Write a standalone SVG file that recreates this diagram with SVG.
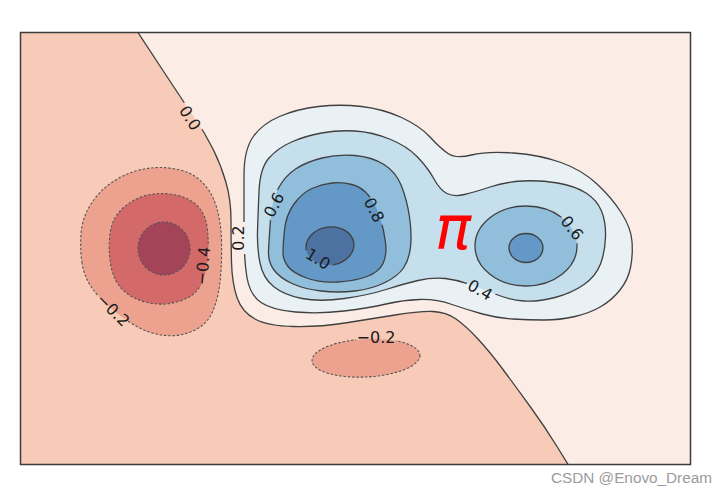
<svg xmlns="http://www.w3.org/2000/svg" width="727" height="493" viewBox="0 0 727 493">
<defs>
<style>
.lv{font-family:"DejaVu Sans","Liberation Sans",sans-serif;font-size:16px;fill:#1a1a1a;text-anchor:middle;dominant-baseline:central}
.ln{fill:none;stroke:#404040;stroke-width:1.3;stroke-linejoin:round}
.neg{fill:none;stroke:#555555;stroke-width:1.1;stroke-dasharray:2.5 1.8}
</style>
<clipPath id="frame"><rect x="20" y="32" width="671" height="433"/></clipPath>
<path id="c00" d="M137,31 L160,66 Q183,101 194,117 Q205,133 213,149 Q221,165 226,182.5 Q231,200 231,220 Q231,240 231.5,261.5 Q232,283 237,297.5 Q242,312 255,319 Q268,326 294,326.5 Q320,327 345,323 Q370,319 395,315 Q420,311 433,311.5 Q446,312 456,319 Q466,326 478,339 Q490,352 503,369.5 Q516,387 530.5,407 Q545,427 557,446.5 L569,466"/>
<path id="c02" d="M244,230 Q244,200 244,175 Q244,150 253,137 Q262,124 279.5,116.5 Q297,109 318.5,106.5 Q340,104 361.5,106.5 Q383,109 401.5,117.5 Q420,126 430,137 Q440,148 448,153.5 Q456,159 471.5,155 Q487,151 513.5,153 Q540,155 561,162.5 Q582,170 597,184 Q612,198 621.5,213 Q631,228 632,241.5 Q633,255 630.5,267.5 Q628,280 620,290 Q612,300 601,306.5 Q590,313 575,316.5 Q560,320 544,320 Q528,320 512.5,319 Q497,318 482.5,314 Q468,310 452,304.5 Q436,299 419.5,299.5 Q403,300 386,304 Q369,308 344,311 Q319,314 295.5,312 Q272,310 261,302.5 Q250,295 247,277.5 Q244,260 244,230 Z"/>
<path id="c04" d="M257.5,231.5 Q258,215 259,191.5 Q260,168 269,158 Q278,148 291.5,142 Q305,136 321.5,133 Q338,130 355,131 Q372,132 389.5,139 Q407,146 417.5,157 Q428,168 434,179 Q440,190 447,193.5 Q454,197 464.5,194.5 Q475,192 490,187 Q505,182 522.5,181 Q540,180 557.5,183 Q575,186 586,193 Q597,200 601.5,211 Q606,222 605.5,237 Q605,252 600.5,264 Q596,276 584,284.5 Q572,293 555,297.5 Q538,302 524,301 Q510,300 496.5,294.5 Q483,289 470.5,284.5 Q458,280 445.5,278.5 Q433,277 418,280.5 Q403,284 386,289.5 Q369,295 344.5,298.5 Q320,302 302,298.5 Q284,295 273.5,286.5 Q263,278 260,263 Q257,248 257.5,231.5 Z"/>
<path id="c06a" d="M268.5,251 Q269,240 270.5,220 Q272,200 278.5,188 Q285,176 295.5,169 Q306,162 322,158 Q338,154 355,155.5 Q372,157 384,164.5 Q396,172 401.5,186 Q407,200 409.5,217 Q412,234 410.5,247 Q409,260 403.5,268 Q398,276 385,282.5 Q372,289 355,291 Q338,293 321,291 Q304,289 292,283.5 Q280,278 274,270 Q268,262 268.5,251 Z"/>
<ellipse id="c06b" cx="526" cy="246" rx="51" ry="40"/>
<path id="c08a" d="M283,252.5 Q283,245 284.5,230 Q286,215 294,204 Q302,193 312,188.5 Q322,184 332,183 Q342,182 352,184.5 Q362,187 369,196 Q376,205 380,217.5 Q384,230 385.5,242.5 Q387,255 383,263.5 Q379,272 367,276.5 Q355,281 337.5,282 Q320,283 306.5,278 Q293,273 288,266.5 Q283,260 283,252.5 Z"/>
<ellipse id="c08b" cx="526" cy="248" rx="17" ry="14.5"/>
<ellipse id="c10" cx="330" cy="246" rx="24" ry="19" transform="rotate(-8 330 246)"/>
<path id="m02a" d="M82,263 Q80,250 81,234 Q82,218 91,204 Q100,190 114,181 Q128,172 144,169 Q160,166 176,169 Q192,172 202,182 Q212,192 216.5,207 Q221,222 221.5,241 Q222,260 220.5,277.5 Q219,295 213.5,309.5 Q208,324 194,330.5 Q180,337 165,335.5 Q150,334 136,326 Q122,318 110,307.5 Q98,297 91,286.5 Q84,276 82,263 Z"/>
<ellipse id="m02b" cx="366" cy="358" rx="54" ry="19" transform="rotate(-3 366 358)"/>
<path id="m04" d="M111,266 Q108,250 110,234 Q112,218 123,208 Q134,198 148,195 Q162,192 176,195 Q190,198 198,206.5 Q206,215 207.5,230 Q209,245 207.5,260 Q206,275 200.5,285.5 Q195,296 180,301 Q165,306 149.5,303 Q134,300 124,291 Q114,282 111,266 Z"/>
<ellipse id="m06" cx="164" cy="248.5" rx="26" ry="26.5"/>
<mask id="gaps" maskUnits="userSpaceOnUse" x="0" y="0" width="727" height="493">
<rect width="727" height="493" fill="#fff"/>
<g fill="#000">
<rect x="-16" y="-7" width="32" height="14" transform="translate(190,118) rotate(57)"/>
<rect x="-16" y="-7" width="32" height="14" transform="translate(242,238) rotate(-90)"/>
<rect x="-15" y="-6" width="30" height="12" transform="translate(274,205) rotate(-62)"/>
<rect x="-15" y="-7" width="30" height="14" transform="translate(376,211) rotate(63)"/>
<rect x="-15" y="-7" width="30" height="14" transform="translate(318,260) rotate(32)"/>
<rect x="-15" y="-7" width="30" height="14" transform="translate(572,228) rotate(52)"/>
<rect x="-15" y="-7" width="30" height="14" transform="translate(481,289) rotate(30)"/>
<rect x="-20" y="-7" width="40" height="14" transform="translate(205,266) rotate(-85)"/>
<rect x="-20" y="-7" width="40" height="14" transform="translate(112,309) rotate(45)"/>
<rect x="-20" y="-7" width="40" height="14" transform="translate(376,338)"/>
</g>
</mask>
</defs>
<rect width="727" height="493" fill="#ffffff"/>
<g id="plot" clip-path="url(#frame)">
<g id="fills" stroke="none">
<rect x="20" y="32" width="671" height="433" fill="#f7cbb7"/>
<path id="fill-0-0.2" fill="#fbede5" d="M137,31 L160,66 Q183,101 194,117 Q205,133 213,149 Q221,165 226,182.5 Q231,200 231,220 Q231,240 231.5,261.5 Q232,283 237,297.5 Q242,312 255,319 Q268,326 294,326.5 Q320,327 345,323 Q370,319 395,315 Q420,311 433,311.5 Q446,312 456,319 Q466,326 478,339 Q490,352 503,369.5 Q516,387 530.5,407 Q545,427 557,446.5 L569,466 L692,466 L692,31 Z"/>
<use href="#c02" fill="#eaf1f5"/>
<use href="#c04" fill="#c5dfec"/>
<use href="#c06a" fill="#90bedb"/>
<use href="#c06b" fill="#90bedb"/>
<use href="#c08a" fill="#6398c7"/>
<use href="#c08b" fill="#6398c7"/>
<use href="#c10" fill="#4d72a1"/>
<use href="#m02a" fill="#eca28e"/>
<use href="#m02b" fill="#eca28e"/>
<use href="#m04" fill="#d4696a"/>
<use href="#m06" fill="#a44459"/>
</g>
<g id="contours" mask="url(#gaps)">
<use href="#c00" class="ln"/>
<use href="#c02" class="ln"/>
<use href="#c04" class="ln"/>
<use href="#c06a" class="ln"/>
<use href="#c06b" class="ln"/>
<use href="#c08a" class="ln"/>
<use href="#c08b" class="ln"/>
<use href="#c10" class="ln"/>
<use href="#m02a" class="neg"/>
<use href="#m02b" class="neg"/>
<use href="#m04" class="neg"/>
<use href="#m06" class="neg"/>
</g>
<g id="labels">
<text class="lv" transform="translate(190,118) rotate(57)">0.0</text>
<text class="lv" transform="translate(238,238) rotate(-90)">0.2</text>
<text class="lv" transform="translate(274,205) rotate(-62)">0.6</text>
<text class="lv" transform="translate(374,210) rotate(63)">0.8</text>
<text class="lv" transform="translate(318,259) rotate(32)">1.0</text>
<text class="lv" transform="translate(572,228) rotate(52)">0.6</text>
<text class="lv" transform="translate(480,290) rotate(30)">0.4</text>
<text class="lv" transform="translate(203,266) rotate(-85)">−0.4</text>
<text class="lv" transform="translate(113,310) rotate(45)">−0.2</text>
<text class="lv" transform="translate(376,337)">−0.2</text>
</g>
<text id="pi" x="453" y="249" text-anchor="middle" font-family="DejaVu Sans, sans-serif" font-style="italic" font-size="60" fill="#ff0000">π</text>
</g>
<rect id="axes-frame" x="20.5" y="32.5" width="670" height="432" fill="none" stroke="#3c3c3c" stroke-width="1.5"/>
<text id="watermark" x="712" y="483" text-anchor="end" font-family="Liberation Sans, Arial, sans-serif" font-size="14" fill="#9a9a9a" textLength="161" lengthAdjust="spacingAndGlyphs">CSDN @Enovo_Dream</text>
</svg>
